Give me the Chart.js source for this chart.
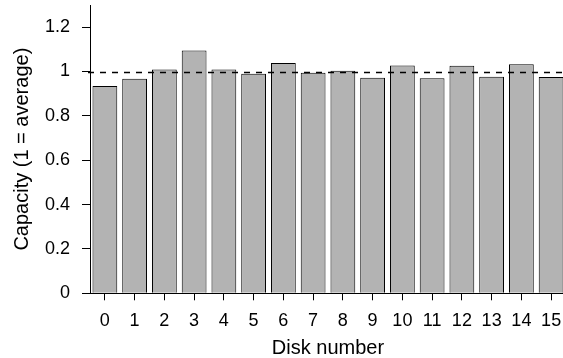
<!DOCTYPE html>
<html>
<head>
<meta charset="utf-8">
<script src="https://cdn.jsdelivr.net/npm/chart.js@4/dist/chart.umd.min.js"></script>
<style>
  html, body { margin: 0; padding: 0; background: #fff; overflow: hidden; }
  #wrap { width: 563px; height: 358px; overflow: hidden; }
</style>
</head>
<body>
<div id="wrap"><canvas id="chart" width="568" height="358"></canvas></div>
<script>
// Capacity per disk, relative to the average
const disks = ['0', '1', '2', '3', '4', '5', '6', '7', '8', '9', '10', '11', '12', '13', '14', '15'];
const capacity = [0.935, 0.967, 1.009, 1.095, 1.009, 0.990, 1.039, 0.995, 1.004, 0.972, 1.027, 0.970, 1.026, 0.977, 1.033, 0.975];
const averageLine = 1;
const yMin = 0;
const yMax = 1.3;

Chart.defaults.color = '#000';
Chart.defaults.font.family = "'Liberation Sans', Arial, sans-serif";
Chart.defaults.font.size = 18;

// linha tracejada no valor médio
const averagePlugin = {
  id: 'averageLine',
  afterDatasetsDraw(chart) {
    const { ctx, chartArea, scales } = chart;
    const y = Math.round(scales.y.getPixelForValue(averageLine)) + 0.5;
    ctx.save();
    ctx.strokeStyle = '#000';
    ctx.lineWidth = 1.5;
    ctx.setLineDash([6, 6]);
    ctx.beginPath();
    ctx.moveTo(chartArea.left - 2, y);
    ctx.lineTo(chartArea.right, y);
    ctx.stroke();
    ctx.restore();
  }
};

new Chart(document.getElementById('chart'), {
  type: 'bar',
  data: {
    labels: disks,
    datasets: [{
      data: capacity,
      backgroundColor: '#b3b3b3',
      borderColor: '#000',
      borderWidth: 1,
      barPercentage: 0.833,
      categoryPercentage: 1
    }]
  },
  options: {
    responsive: false,
    animation: false,
    layout: { padding: { top: 5, right: 2, left: 0, bottom: 0 } },
    plugins: {
      legend: { display: false },
      tooltip: { enabled: false }
    },
    scales: {
      x: {
        grid: { display: true, drawOnChartArea: false, offset: false, tickLength: 7, color: '#000' },
        border: { display: true, color: '#000', width: 1 },
        ticks: { padding: 10, maxRotation: 0, autoSkip: false },
        title: { display: true, text: 'Disk number', font: { size: 20 }, padding: { top: 0, bottom: -2 } },
        afterFit(scale) {
          scale.height = 64.7;
          scale.paddingLeft = 0;
          scale.paddingRight = 0;
        }
      },
      y: {
        min: yMin,
        max: yMax,
        grid: { display: true, drawOnChartArea: false, tickLength: 8, color: '#000' },
        border: { display: true, color: '#000', width: 1 },
        ticks: {
          stepSize: 0.2,
          includeBounds: false,
          padding: 12,
          callback: value => String(+value.toFixed(1))
        },
        title: { display: true, text: 'Capacity (1 = average)', font: { size: 20 }, padding: { top: 10, bottom: 0 } },
        afterFit(scale) {
          scale.width = 90;
          scale.paddingTop = 0;
          scale.paddingBottom = 0;
        }
      }
    }
  },
  plugins: [averagePlugin]
});
</script>
</body>
</html>
